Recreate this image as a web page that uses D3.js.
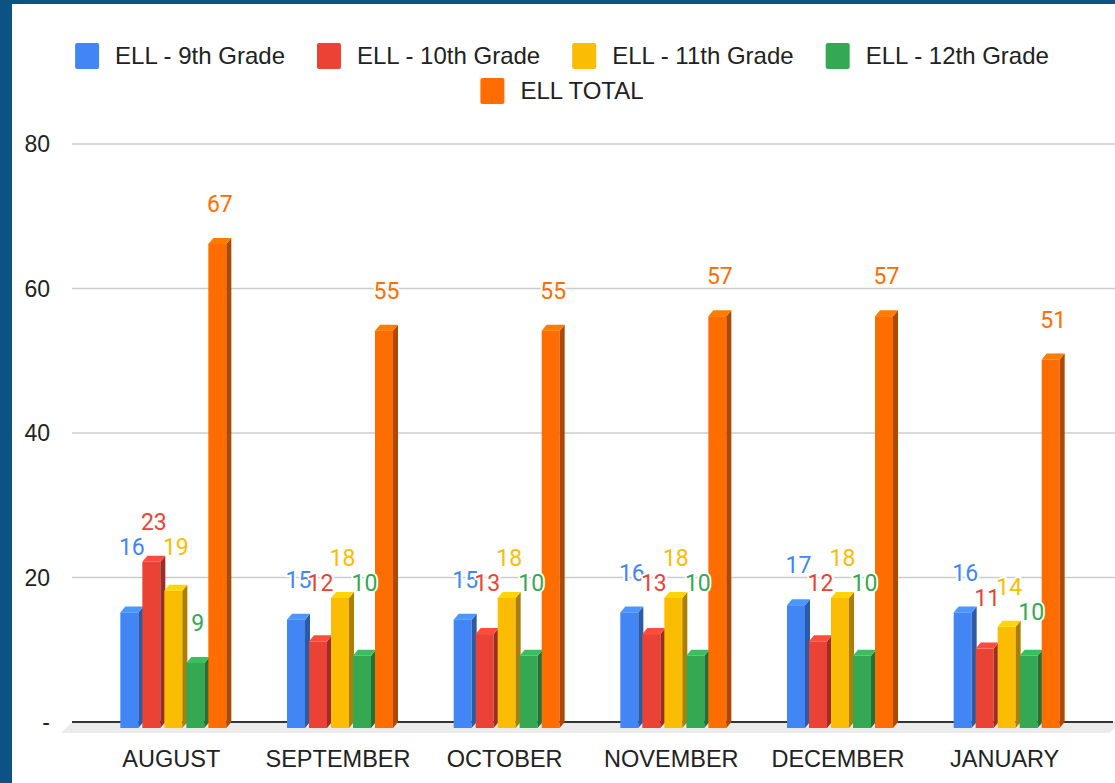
<!DOCTYPE html>
<html>
<head>
<meta charset="utf-8">
<script src="https://cdn.jsdelivr.net/npm/d3@7"></script>
<style>
  html, body { margin: 0; padding: 0; background: #0c5283; }
  #chart { position: absolute; left: 12px; top: 4px; width: 1103px; height: 779px; background: #fff; overflow: hidden; }
  svg { display: block; }
</style>
</head>
<body>
<div id="chart"></div>
<script>
// data
var months = ["AUGUST", "SEPTEMBER", "OCTOBER", "NOVEMBER", "DECEMBER", "JANUARY"];
var seriesNames = ["ELL - 9th Grade", "ELL - 10th Grade", "ELL - 11th Grade", "ELL - 12th Grade", "ELL TOTAL"];
var seriesColors = ["#4285f4", "#ea4335", "#fbbc04", "#34a853", "#ff6d01"];
var grade9 = [16, 15, 15, 16, 17, 16];
var grade10 = [23, 12, 13, 13, 12, 11];
var grade11 = [19, 18, 18, 18, 18, 14];
var grade12 = [9, 10, 10, 10, 10, 10];
var total = [67, 55, 55, 57, 57, 51];
var yTicks = [0, 20, 40, 60, 80];

var allSeries = [grade9, grade10, grade11, grade12, total];

var width = 1115, height = 783;
var svg = d3.select("#chart").append("svg")
    .attr("width", width).attr("height", height)
    .append("g")
    .attr("transform", "translate(-12,-4)"); // use page coordinates

var x = d3.scaleBand().domain(months).range([88, 1088]);
var y = d3.scaleLinear().domain([0, 80]).range([722, 144]);
var barW = 18, pitch = 22, dx = 5, dy = 6;
var labelFont = "Roboto, 'Liberation Sans', Arial, sans-serif";
var axisFont = "'Liberation Sans', Arial, sans-serif";

// gridlines
svg.append("g").selectAll("line")
    .data(yTicks.filter(function(d) { return d > 0; }))
    .enter().append("line")
    .attr("x1", 72).attr("x2", 1115)
    .attr("y1", function(d) { return y(d); })
    .attr("y2", function(d) { return y(d); })
    .attr("stroke", "#cccccc").attr("stroke-width", 1.5);

// floor
svg.append("polygon")
    .attr("points", [[72, y(0)], [1120, y(0)], [1110, y(0) + 11], [61, y(0) + 11]].join(" "))
    .attr("fill", "#ebebeb");

// baseline
svg.append("line")
    .attr("x1", 72).attr("x2", 1113)
    .attr("y1", y(0)).attr("y2", y(0))
    .attr("stroke", "#333").attr("stroke-width", 2);

// y axis labels
svg.append("g").selectAll("text")
    .data(yTicks).enter().append("text")
    .attr("x", 50).attr("y", function(d) { return y(d); })
    .attr("dy", "0.35em")
    .attr("text-anchor", "end")
    .style("font-family", axisFont).style("font-size", "23px").style("fill", "#222")
    .text(function(d) { return d === 0 ? "-" : d; });

// x axis labels
svg.append("g").selectAll("text")
    .data(months).enter().append("text")
    .attr("x", function(d) { return x(d) + x.bandwidth() / 2; })
    .attr("y", 767)
    .attr("text-anchor", "middle")
    .style("font-family", axisFont).style("font-size", "23.5px").style("fill", "#222")
    .text(function(d) { return d; });

// bars
var bars = [];
months.forEach(function(m, mi) {
    var start = x(m) + x.bandwidth() / 2 - 51;
    allSeries.forEach(function(s, si) {
        bars.push({ month: m, mi: mi, si: si, value: s[mi], x0: start + si * pitch });
    });
});

var barG = svg.append("g").selectAll("g")
    .data(bars).enter().append("g");

barG.append("rect")
    .attr("x", function(d) { return d.x0; })
    .attr("y", function(d) { return y(d.value) + dy; })
    .attr("width", barW)
    .attr("height", function(d) { return y(0) - y(d.value); })
    .attr("fill", function(d) { return seriesColors[d.si]; });

barG.append("polygon")
    .attr("points", function(d) {
        var xr = d.x0 + barW, yt = y(d.value), yb = y(0);
        return [[xr, yt + dy], [xr + dx, yt], [xr + dx, yb], [xr, yb + dy]].join(" ");
    })
    .attr("fill", function(d) { return d3.color(seriesColors[d.si]).darker(1.1); });

barG.append("polygon")
    .attr("points", function(d) {
        var yt = y(d.value);
        return [[d.x0, yt + dy], [d.x0 + dx, yt], [d.x0 + barW + dx, yt], [d.x0 + barW, yt + dy]].join(" ");
    })
    .attr("fill", function(d) { return d3.color(seriesColors[d.si]).brighter(0.35); });

// data labels, nudged up if they would sit on a neighbouring grade bar
var labels = bars.map(function(d) {
    var cx = d.x0 + (barW + dx) / 2;
    var cy = y(d.value) - 34;
    var halfW = String(d.value).length * 6.5;
    bars.forEach(function(b) {
        if (b === d || b.mi !== d.mi || b.si === 4) return;
        var bx0 = b.x0, bx1 = b.x0 + barW + dx, btop = y(b.value);
        if (cx + halfW > bx0 && cx - halfW < bx1 && cy + 10 > btop) {
            cy = Math.min(cy, btop - 9);
        }
    });
    return { d: d, cx: cx, cy: cy };
});

svg.append("g").selectAll("text")
    .data(labels).enter().append("text")
    .attr("x", function(l) { return l.cx; })
    .attr("y", function(l) { return l.cy; })
    .attr("dy", "0.36em")
    .attr("text-anchor", "middle")
    .style("font-family", labelFont).style("font-size", "23px")
    .style("fill", function(l) { return seriesColors[l.d.si]; })
    .style("stroke", "#fff").style("stroke-width", 4).style("stroke-linejoin", "round")
    .style("paint-order", "stroke")
    .text(function(l) { return l.d.value; });

// legend
var legend = svg.append("g");
var items = legend.selectAll("g").data(seriesNames).enter().append("g");
items.append("rect")
    .attr("width", 24).attr("height", 26).attr("rx", 2)
    .attr("fill", function(d, i) { return seriesColors[i]; });
items.append("text")
    .attr("x", 40).attr("y", 21)
    .style("font-family", axisFont).style("font-size", "24px").style("fill", "#222")
    .text(function(d) { return d; });

var rows = [[]], rowW = [0], maxW = 1000, gap = 32;
items.each(function(d, i) {
    var w = 40 + this.querySelector("text").getComputedTextLength();
    var r = rows.length - 1;
    var nw = rowW[r] + (rows[r].length ? gap : 0) + w;
    if (rows[r].length && nw > maxW) { rows.push([]); rowW.push(0); r++; nw = w; }
    rows[r].push({ node: this, w: w, off: nw - w });
    rowW[r] = nw;
});
rows.forEach(function(row, r) {
    var left = 562 - rowW[r] / 2;
    row.forEach(function(it) {
        d3.select(it.node).attr("transform", "translate(" + (left + it.off) + "," + (43 + r * 35) + ")");
    });
});
</script>
</body>
</html>
